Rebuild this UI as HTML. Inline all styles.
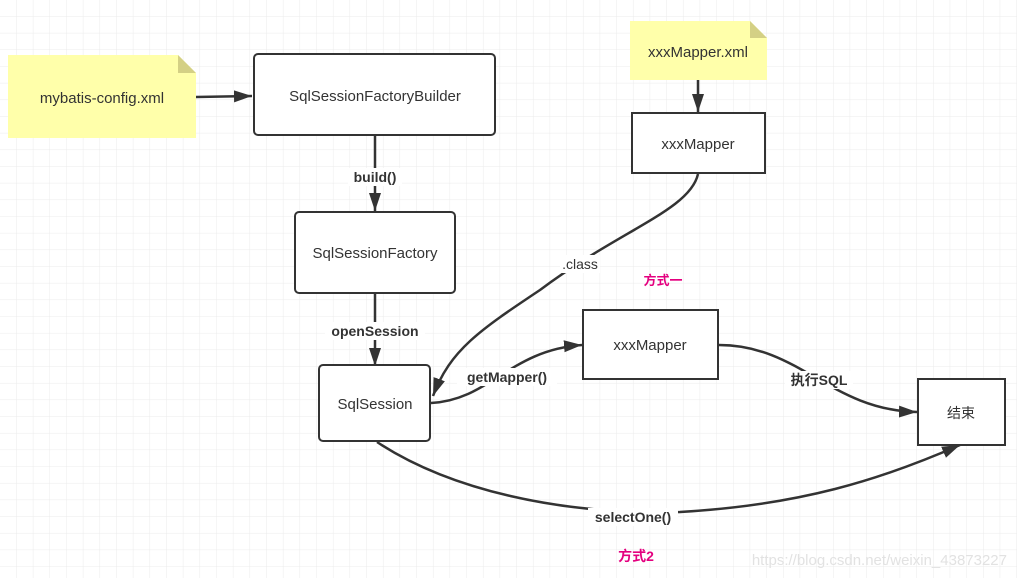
<!DOCTYPE html>
<html><head><meta charset="utf-8"><style>
body{margin:0;background:#fff}
svg{display:block}
text{font-family:"Liberation Sans","Noto Sans CJK SC",sans-serif;fill:#333}
</style></head><body>
<svg width="1017" height="578" viewBox="0 0 1017 578" xmlns="http://www.w3.org/2000/svg">
<defs>
<pattern id="g" width="16.67" height="16.67" patternUnits="userSpaceOnUse">
<path d="M16.67 0V16.67H0" fill="none" stroke="#ebebeb" stroke-width="1"/>
</pattern>
<marker id="b" markerWidth="20" markerHeight="14" refX="18" refY="7" orient="auto" markerUnits="userSpaceOnUse">
<path d="M0 1L18 7L0 13Z" fill="#333"/>
</marker>
</defs>
<rect width="1017" height="578" fill="url(#g)"/>
<g stroke="#333" stroke-width="2.5" fill="none">
<path d="M196 97L252 96" marker-end="url(#b)"/>
<path d="M375 136V211" marker-end="url(#b)"/>
<path d="M375 294V366" marker-end="url(#b)"/>
<path d="M698 80V112" marker-end="url(#b)"/>
<path d="M698 174C690 210 620 230 540 290C480 330 450 350 433 396" marker-end="url(#b)"/>
<path d="M431 403C490 400 510 350 582 345" marker-end="url(#b)"/>
<path d="M719 345C800 345 830 410 917 412" marker-end="url(#b)"/>
<path d="M377 442C450 490 560 515 680 512C800 505 880 480 960 445" marker-end="url(#b)"/>
</g>
<path d="M8 55H178L196 73V138H8Z" fill="#ffffaa"/>
<path d="M178 55L196 73H178Z" fill="#d4d085"/>
<path d="M630 21H750L767 38V80H630Z" fill="#ffffaa"/>
<path d="M750 21L767 38H750Z" fill="#d4d085"/>
<g fill="#fff" stroke="#333" stroke-width="2">
<rect x="254" y="54" width="241" height="81" rx="4"/>
<rect x="295" y="212" width="160" height="81" rx="4"/>
<rect x="319" y="365" width="111" height="76" rx="4"/>
<rect x="632" y="113" width="133" height="60"/>
<rect x="583" y="310" width="135" height="69"/>
<rect x="918" y="379" width="87" height="66"/>
</g>
<g font-size="15" text-anchor="middle">
<text x="102" y="103">mybatis-config.xml</text>
<text x="375" y="101">SqlSessionFactoryBuilder</text>
<text x="375" y="258">SqlSessionFactory</text>
<text x="375" y="409">SqlSession</text>
<text x="698" y="57">xxxMapper.xml</text>
<text x="698" y="149">xxxMapper</text>
<text x="650" y="350">xxxMapper</text>
<text x="961" y="418" font-size="14">结束</text>
</g>
<g font-size="14" font-weight="bold" text-anchor="middle">
<rect x="348" y="168" width="54" height="18" fill="#fff"/>
<text x="375" y="182">build()</text>
<rect x="325" y="322" width="100" height="18" fill="#fff"/>
<text x="375" y="336">openSession</text>
<rect x="457" y="368" width="100" height="18" fill="#fff"/>
<text x="507" y="382">getMapper()</text>
<rect x="785" y="371" width="68" height="18" fill="#fff"/>
<text x="819" y="385">执行SQL</text>
<rect x="588" y="508" width="90" height="18" fill="#fff"/>
<text x="633" y="522">selectOne()</text>
<text x="663" y="285" style="fill:#e4007f" font-size="13">方式一</text>
<text x="636" y="561" style="fill:#e4007f" font-size="14">方式2</text>
</g>
<rect x="560" y="255" width="40" height="18" fill="#fff"/>
<text x="580" y="269" font-size="14" text-anchor="middle">.class</text>
<text x="1007" y="565" font-size="15" text-anchor="end" style="fill:#e2e2e2">https://blog.csdn.net/weixin_43873227</text>
</svg>
</body></html>
